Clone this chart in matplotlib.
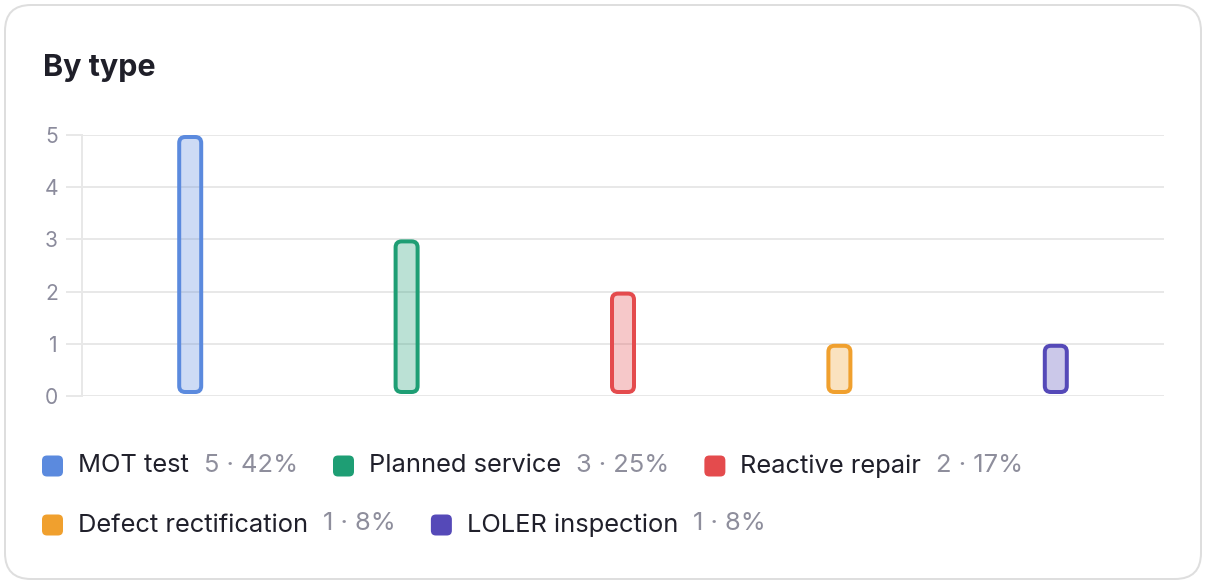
import matplotlib
matplotlib.use("Agg")
import matplotlib.pyplot as plt
from matplotlib.patches import FancyBboxPatch

# Data
categories = ["MOT test", "Planned service", "Reactive repair", "Defect rectification", "LOLER inspection"]
counts = [5, 3, 2, 1, 1]
percents = ["42%", "25%", "17%", "8%", "8%"]
colors = ["#5b8ade", "#1e9e74", "#e44b4d", "#f0a02e", "#5549b8"]
y_ticks = [0, 1, 2, 3, 4, 5]

plt.rcParams["font.family"] = ["Inter", "DejaVu Sans"]

W, H = 1206, 584
DPI = 100
fig = plt.figure(figsize=(W / DPI, H / DPI), dpi=DPI)
fig.patch.set_facecolor("white")

def px(v):
    # pixels -> points
    return v * 72.0 / DPI

# Card outline
card = FancyBboxPatch((5 / W, 5 / H), (W - 10) / W, (H - 10) / H,
                      boxstyle="round,pad=0,rounding_size=%f" % (26 / W),
                      mutation_aspect=W / H,
                      transform=fig.transFigure, facecolor="white",
                      edgecolor="#dedede", linewidth=px(2), zorder=-5)
fig.patches.append(card)

# Title
fig.text(43 / W, 1 - 68 / H, "By type", fontsize=px(30.5), fontweight="bold",
         color="#1f1f29", va="center", ha="left")

# Axes
left, right, top, bottom = 82, 1164, 135, 396
ax = fig.add_axes([left / W, 1 - bottom / H, (right - left) / W, (bottom - top) / H])
ax.patch.set_alpha(0)
ax.set_xlim(-0.5, len(categories) - 0.5)
ax.set_ylim(0, 5)
ax.set_yticks(y_ticks)
ax.set_xticks([])
ax.grid(axis="y", color="#e8e8e8", linewidth=px(2))
ax.set_axisbelow(True)
for s in ["top", "right", "bottom"]:
    ax.spines[s].set_visible(False)
ax.spines["left"].set_color("#e8e8e8")
ax.spines["left"].set_linewidth(px(2))
ax.tick_params(axis="y", length=px(16), width=px(2), color="#e8e8e8",
               labelcolor="#8b8b9c", labelsize=px(21), pad=px(8))

# Bars with rounded corners
x_unit = (right - left) / len(categories)   # px per x data unit
y_unit = (bottom - top) / 5.0               # px per y data unit
bar_w_px = 22
lw_px = 4
radius_px = 6
for i, (c, col) in enumerate(zip(counts, colors)):
    w = bar_w_px / x_unit
    y0 = 4 / y_unit
    h = c - y0 - 2 / y_unit
    p = FancyBboxPatch((i - w / 2, y0), w, h,
                       boxstyle="round,pad=0,rounding_size=%f" % (radius_px / x_unit),
                       mutation_aspect=x_unit / y_unit,
                       facecolor=matplotlib.colors.to_rgba(col, 0.3),
                       edgecolor=col, linewidth=px(lw_px), clip_on=False, zorder=3)
    ax.add_patch(p)

# Legend (manual, wrapping)
fig.canvas.draw()
renderer = fig.canvas.get_renderer()
leg_fs = px(25.5)

def text_width(s):
    t = fig.text(0, 0, s, fontsize=leg_fs)
    wdt = t.get_window_extent(renderer=renderer).width
    t.remove()
    return wdt

x = 42
row_y = 466
max_x = 1160
sq_size = 21
for name, c, pct, col in zip(categories, counts, percents, colors):
    val = "%d \u00b7 %s" % (c, pct)
    w1, w2 = text_width(name), text_width(val)
    item_w = 36 + w1 + 15 + w2
    if x + item_w > max_x and x > 42:
        x = 42
        row_y += 59
    sq = FancyBboxPatch((x / W, 1 - (row_y + sq_size / 2) / H), sq_size / W, sq_size / H,
                        boxstyle="round,pad=0,rounding_size=%f" % (5 / W),
                        mutation_aspect=W / H,
                        transform=fig.transFigure, facecolor=col, edgecolor="none")
    fig.patches.append(sq)
    fig.text((x + 36) / W, 1 - row_y / H, name, fontsize=leg_fs, color="#20202b",
             va="center", ha="left")
    fig.text((x + 36 + w1 + 15) / W, 1 - (row_y - 1) / H, val,
             fontsize=leg_fs, color="#8e8e9c", va="center", ha="left")
    x += item_w + 35

fig.savefig("out.png", dpi=DPI)
